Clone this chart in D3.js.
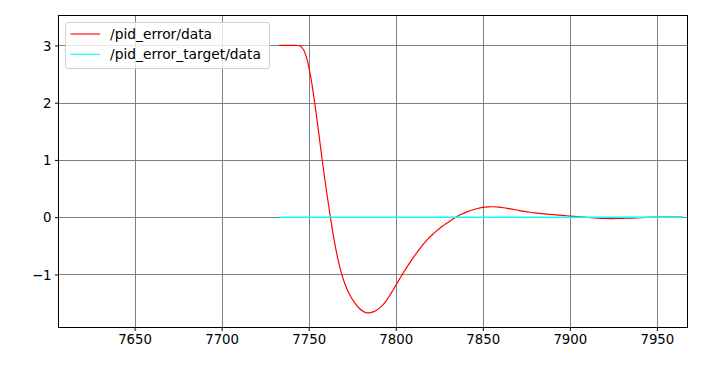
<!DOCTYPE html>
<html><head><meta charset="utf-8">
<script src="https://cdn.jsdelivr.net/npm/d3@7"></script>
<style>body{margin:0;background:#fff;}svg{display:block;font-family:"DejaVu Sans",sans-serif;}</style>
</head><body><svg id="c" width="702" height="367"></svg>
<script>
const errT = [7733,7738,7743,7745,7747,7749,7751,7753,7755,7757,7759,7761,7763,7765,7767,7769,7771,7773,7775,7777,7779,7781,7783,7785,7787,7789,7791,7793,7795,7797,7799,7801,7803,7805,7807,7809,7811,7813,7815,7817,7819,7821,7823,7825,7827,7829,7831,7833,7835,7838,7841,7844,7847,7850,7853,7856,7859,7862,7865,7868,7871,7874,7877,7880,7884,7888,7892,7896,7900,7904,7908,7912,7916,7920,7924,7928,7932,7936,7940,7944,7950,7958,7965];
const errV = [3.0,3.0,3.0,2.99,2.93,2.76,2.48,2.10,1.65,1.18,0.72,0.30,-0.10,-0.46,-0.76,-1.00,-1.18,-1.32,-1.43,-1.52,-1.59,-1.64,-1.67,-1.67,-1.655,-1.625,-1.58,-1.52,-1.44,-1.345,-1.245,-1.14,-1.04,-0.94,-0.845,-0.755,-0.667,-0.583,-0.505,-0.433,-0.367,-0.307,-0.252,-0.202,-0.155,-0.111,-0.069,-0.029,0.009,0.055,0.093,0.126,0.152,0.17,0.18,0.182,0.176,0.165,0.15,0.134,0.116,0.10,0.086,0.075,0.062,0.05,0.04,0.03,0.02,0.01,0.0,-0.01,-0.018,-0.023,-0.025,-0.022,-0.019,-0.015,-0.01,-0.005,0.0,0.0,0.0];
const tgtT = [7733,7965];
const tgtV = [0,0];
const xTicks = [7650,7700,7750,7800,7850,7900,7950];
const yTicks = [-1,0,1,2,3];
const seriesNames = ["/pid_error/data","/pid_error_target/data"];
const seriesColors = ["#ff0000","#00ffff"];

const svg = d3.select("#c");
const L=58.5,R=687.5,T=15.5,B=327.5;
const x = d3.scaleLinear().domain([7606.3,7967.6]).range([L,R]);
const y = d3.scaleLinear().domain([-1.927,3.523]).range([B,T]);

// grid
const g = svg.append("g");
g.selectAll(".gx").data(xTicks).enter().append("line")
 .attr("x1",d=>Math.round(x(d))+0.5).attr("x2",d=>Math.round(x(d))+0.5).attr("y1",T).attr("y2",B)
 .attr("stroke","#808080").attr("stroke-width",1);
g.selectAll(".gy").data(yTicks).enter().append("line")
 .attr("y1",d=>Math.round(y(d))+0.5).attr("y2",d=>Math.round(y(d))+0.5).attr("x1",L).attr("x2",R)
 .attr("stroke","#808080").attr("stroke-width",1);

const line = d3.line().x(d=>x(d[0])).y(d=>y(d[1])).curve(d3.curveCatmullRom.alpha(0.5));
svg.append("path").datum(errT.map((t,i)=>[t,errV[i]])).attr("d",line)
 .attr("fill","none").attr("stroke",seriesColors[0]).attr("stroke-width",1.2);
svg.append("path").datum(tgtT.map((t,i)=>[t,tgtV[i]])).attr("d",line)
 .attr("fill","none").attr("stroke",seriesColors[1]).attr("stroke-width",1.6);

// axes
const fmt = d=> d<0 ? "\u2212"+Math.abs(d) : String(d);
const xa = svg.append("g").attr("transform",`translate(0,${B})`)
 .call(d3.axisBottom(x).tickValues(xTicks).tickSize(3.5).tickPadding(3.5).tickFormat(fmt));
const ya = svg.append("g").attr("transform",`translate(${L},0)`)
 .call(d3.axisLeft(y).tickValues(yTicks).tickSize(3.5).tickPadding(3.5).tickFormat(fmt));
[xa,ya].forEach(a=>{a.select(".domain").remove();a.selectAll("text").attr("font-size","13.3px").attr("fill","#000").attr("font-family","DejaVu Sans");a.selectAll("line").attr("stroke","#000");});
ya.selectAll("text").attr("dy","0.35em");

svg.append("rect").attr("x",L).attr("y",T).attr("width",R-L).attr("height",B-T)
 .attr("fill","none").attr("stroke","#000").attr("stroke-width",1);

// legend
const lg = svg.append("g");
lg.append("rect").attr("x",65.5).attr("y",22.5).attr("width",204).attr("height",46).attr("rx",2.5)
 .attr("fill","rgba(255,255,255,0.8)").attr("stroke","#d0d0d0").attr("stroke-width",1);
seriesNames.forEach((n,i)=>{
  const yy = 34 + i*20.3;
  lg.append("line").attr("x1",70.5).attr("x2",100).attr("y1",yy).attr("y2",yy)
   .attr("stroke",seriesColors[i]).attr("stroke-width",1.1);
  lg.append("text").attr("x",110).attr("y",yy).attr("dy","0.35em").attr("font-size","13.8px").attr("fill","#000").text(n);
});
</script></body></html>
